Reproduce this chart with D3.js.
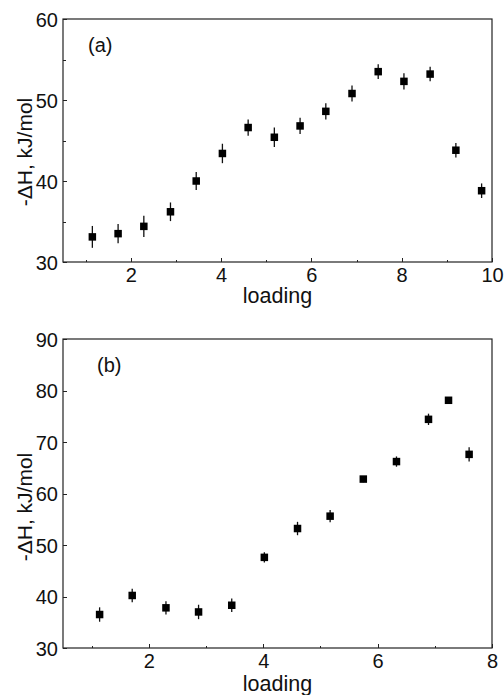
<!DOCTYPE html>
<html>
<head>
<meta charset="utf-8">
<script src="https://cdn.jsdelivr.net/npm/d3@7"></script>
<style>
body {
  margin: 0;
  background-color: white;
}
.axis path,
.axis line {
  fill: none;
  stroke: #222;
  shape-rendering: crispEdges;
}
text {
  font-family: "Liberation Sans", Arial, sans-serif;
  fill: #111;
}
</style>
</head>
<body>
<script>

// panel (a)
const loadingA = [1.15, 1.72, 2.29, 2.88, 3.45, 4.03, 4.60, 5.18, 5.75, 6.32, 6.90, 7.48, 8.05, 8.63, 9.20, 9.77];
const dhA      = [33.1, 33.5, 34.4, 36.2, 40.0, 43.4, 46.6, 45.4, 46.8, 48.6, 50.8, 53.5, 52.3, 53.2, 43.8, 38.8];
const errA     = [1.35, 1.2, 1.3, 1.15, 1.1, 1.2, 1.0, 1.2, 1.0, 1.0, 1.0, 0.9, 1.0, 0.9, 0.9, 0.9];

// panel (b)
const loadingB = [1.14, 1.71, 2.30, 2.87, 3.45, 4.02, 4.60, 5.17, 5.75, 6.33, 6.89, 7.24, 7.60];
const dhB      = [36.5, 40.2, 37.8, 37.0, 38.3, 47.6, 53.2, 55.6, 62.8, 66.2, 74.4, 78.1, 67.6];
const errB     = [1.4, 1.3, 1.3, 1.4, 1.3, 1.0, 1.3, 1.2, 0.6, 1.0, 1.1, 0.6, 1.4];

const xTicksA = [2, 4, 6, 8, 10];
const xMinorA = [1, 3, 5, 7, 9];
const yTicksA = [30, 40, 50, 60];
const yMinorA = [35, 45, 55];

const xTicksB = [2, 4, 6, 8];
const xMinorB = [1, 3, 5, 7];
const yTicksB = [30, 40, 50, 60, 70, 80, 90];

const svg = d3.select("body")
            .append("svg")
            .attr("width", 504)
            .attr("height", 695);

function panel(opt) {
  const x = d3.scaleLinear().domain(opt.xDomain).range([opt.left, opt.right]);
  const y = d3.scaleLinear().domain(opt.yDomain).range([opt.bottom, opt.top]);
  const g = svg.append("g");

  // frame
  g.append("rect")
   .attr("x", opt.left).attr("y", opt.top)
   .attr("width", opt.right - opt.left).attr("height", opt.bottom - opt.top)
   .attr("fill", "none").attr("stroke", "#222").attr("stroke-width", 1.2);

  // major ticks, pointing in
  g.append("g").attr("class", "axis")
   .attr("transform", `translate(0, ${opt.bottom})`)
   .call(d3.axisBottom(x).tickValues(opt.xTicks).tickSize(-4).tickSizeOuter(0).tickPadding(6))
   .call(a => a.select(".domain").remove())
   .selectAll("text").attr("font-size", 20).attr("dy", "0.72em");

  g.append("g").attr("class", "axis")
   .attr("transform", `translate(${opt.left}, 0)`)
   .call(d3.axisLeft(y).tickValues(opt.yTicks).tickSize(-4).tickSizeOuter(0).tickPadding(5))
   .call(a => a.select(".domain").remove())
   .selectAll("text").attr("font-size", 20).attr("dy", "0.36em");

  // minor ticks
  g.append("g").attr("class", "axis")
   .attr("transform", `translate(0, ${opt.bottom})`)
   .call(d3.axisBottom(x).tickValues(opt.xMinor).tickSize(-2.5).tickSizeOuter(0).tickFormat(""))
   .call(a => a.select(".domain").remove());

  if (opt.yMinor.length) {
    g.append("g").attr("class", "axis")
     .attr("transform", `translate(${opt.left}, 0)`)
     .call(d3.axisLeft(y).tickValues(opt.yMinor).tickSize(-2.5).tickSizeOuter(0).tickFormat(""))
     .call(a => a.select(".domain").remove());
  }

  const pts = opt.xs.map((v, i) => ({x: v, y: opt.ys[i], e: opt.es[i]}));

  // error bars
  g.selectAll(".err").data(pts).enter().append("line")
   .attr("x1", d => x(d.x)).attr("x2", d => x(d.x))
   .attr("y1", d => y(d.y - d.e)).attr("y2", d => y(d.y + d.e))
   .attr("stroke", "#111").attr("stroke-width", 1.3);

  // square markers
  const s = 7.5;
  g.selectAll(".pt").data(pts).enter().append("rect")
   .attr("x", d => x(d.x) - s / 2).attr("y", d => y(d.y) - s / 2)
   .attr("width", s).attr("height", s)
   .attr("fill", "#000");

  // labels
  g.append("text")
   .attr("x", (opt.left + opt.right) / 2).attr("y", opt.xLabelY)
   .attr("text-anchor", "middle").attr("font-size", 21.5)
   .text("loading");

  g.append("text")
   .attr("transform", `translate(32, ${opt.yLabelY}) rotate(-90)`)
   .attr("text-anchor", "middle").attr("font-size", 21)
   .text("-ΔH, kJ/mol");

  g.append("text")
   .attr("x", opt.tagX).attr("y", opt.tagY)
   .attr("font-size", 20)
   .text(opt.tag);
}

panel({
  xDomain: [0.5, 10], yDomain: [30, 60],
  left: 63, right: 492, top: 19, bottom: 262,
  xTicks: xTicksA, xMinor: xMinorA, yTicks: yTicksA, yMinor: yMinorA,
  xs: loadingA, ys: dhA, es: errA,
  xLabelY: 303, yLabelY: 152, tag: "(a)", tagX: 88, tagY: 52
});

panel({
  xDomain: [0.5, 8], yDomain: [30, 90],
  left: 63, right: 492, top: 339, bottom: 648,
  xTicks: xTicksB, xMinor: xMinorB, yTicks: yTicksB, yMinor: [],
  xs: loadingB, ys: dhB, es: errB,
  xLabelY: 691, yLabelY: 507, tag: "(b)", tagX: 97, tagY: 372
});

</script>
</body>
</html>
